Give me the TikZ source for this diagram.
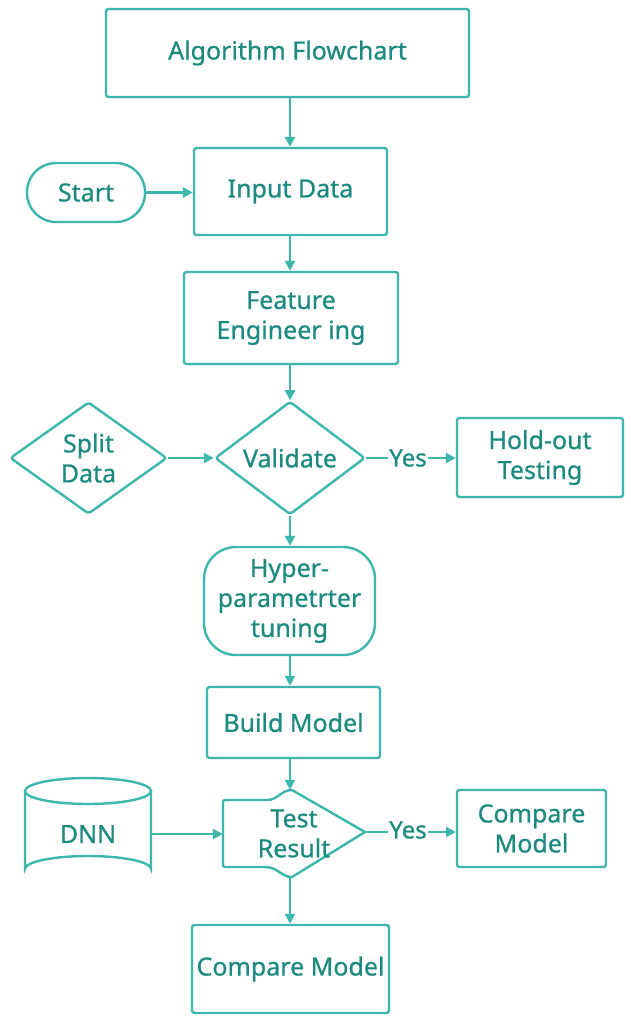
\documentclass[tikz,border=0pt]{standalone}
\usepackage{fontspec}
\setmainfont{Noto Sans}[FakeBold=0.7]
\usetikzlibrary{shapes.geometric,arrows.meta}
\definecolor{teal1}{HTML}{3DB6AB}
\definecolor{tealtxt}{HTML}{1C8A7E}
\tikzset{
  base/.style={draw=teal1, line width=2.4pt, text=tealtxt, font=\fontsize{25}{30}\selectfont, align=center, inner sep=0pt},
  box/.style={base, rectangle, rounded corners=2.5pt},
  arr/.style={draw=teal1, line width=2.4pt, -{Triangle[length=10pt,width=10pt]}},
  ln/.style={draw=teal1, line width=2.4pt},
  plain/.style={text=tealtxt, font=\fontsize{25}{30}\selectfont, align=center, inner sep=0pt},
  yeslbl/.style={text=tealtxt, font=\fontsize{24}{28}\selectfont, inner sep=1.5pt}
}
\begin{document}
\begin{tikzpicture}[x=1pt,y=-1pt]
\useasboundingbox[fill=white] (0,0) rectangle (630,1021);
\coordinate (spine) at (290,0);
% nodes
\node[box, minimum width=363pt, minimum height=88pt] (title) at (287.5,53) {Algorithm Flowchart};
\node[box, minimum width=193pt, minimum height=87pt] (input) at (290.5,191.5) {Input Data};
\node[box, rounded corners=29pt, minimum width=118pt, minimum height=59pt] (start) at (86,192.5) {Start};
\node[box, minimum width=214pt, minimum height=92pt] (feat) at (291,318) {Feature\\Engineer ing};
\node[base, diamond, rounded corners=3pt, minimum width=150pt, minimum height=110pt] (val) at (290,458) {Validate};
\node[base, diamond, rounded corners=3pt, minimum width=157pt, minimum height=112pt] (split) at (88.5,458) {Split\\Data};
\node[box, minimum width=166pt, minimum height=79pt] (hold) at (540,457.5) {Hold-out\\Testing};
\node[box, rounded corners=32pt, minimum width=171pt, minimum height=108pt] (hyper) at (289.5,601) {Hyper-\\parametrter\\tuning};
\node[box, minimum width=173pt, minimum height=71pt] (build) at (293.5,722.5) {Build Model};
% Test Result shape
\draw[ln, rounded corners=2pt] (223,800) -- (265,800) [sharp corners] .. controls (278,800) and (281,790) .. (292,790) -- (365,832) -- (292,877) .. controls (281,877) and (278,867) .. (265,867) [rounded corners=2pt] -- (223,867) -- cycle;
\node[plain, minimum width=142pt, minimum height=87pt] (test) at (294,833.5) {Test\\Result};
% DNN cylinder
\draw[ln] (25,791) -- (25,869) arc[start angle=180, end angle=360, x radius=63, y radius=13] -- (151,791);
\draw[ln] (88,791) ellipse[x radius=63, y radius=13];
\node[plain, minimum width=126pt, minimum height=104pt] (dnn) at (88,834) {DNN};
\node[box, minimum width=149pt, minimum height=77pt] (cmp1) at (531.5,828.5) {Compare\\Model};
\node[box, minimum width=197pt, minimum height=88pt] (cmp2) at (290.5,969) {Compare Model};
% yes labels
\node[yeslbl] (yes1) at (408,458) {Yes};
\node[yeslbl] (yes2) at (408,830) {Yes};
% connectors
\draw[arr] (title.south -| spine) -- (input.north -| spine);
\draw[arr] (start.east) -- (start.east -| input.west);
\draw[arr] (input.south -| spine) -- (feat.north -| spine);
\draw[arr] (feat.south -| spine) -- (val.north);
\draw[arr] (split.east) -- (val.west);
\draw[ln] (val.east) -- (yes1.west);
\draw[arr] (yes1.east) -- (yes1.east -| hold.west);
\draw[arr] (val.south) -- (hyper.north -| spine);
\draw[arr] (hyper.south -| spine) -- (build.north -| spine);
\draw[arr] (build.south -| spine) -- (spine |- test.north);
\draw[arr] (dnn.east) -- (dnn.east -| test.west);
\draw[ln] (365,832) -- (yes2.west |- 0,832);
\draw[arr] (yes2.east |- 0,832) -- (cmp1.west |- 0,832);
\draw[arr] (spine |- test.south) -- (cmp2.north -| spine);
\end{tikzpicture}
\end{document}
